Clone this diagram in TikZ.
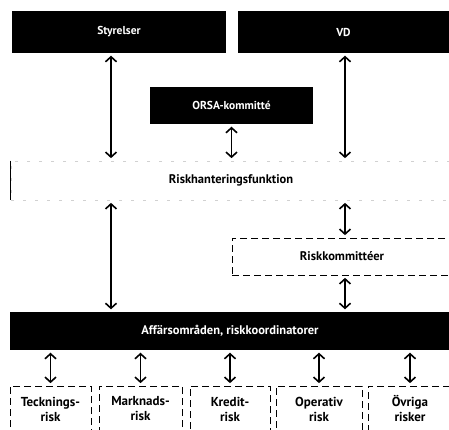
\documentclass[tikz,border=0pt]{standalone}
\usepackage{fontspec}
\setmainfont{PT Sans}
\usetikzlibrary{positioning,arrows.meta}

\tikzset{
  blackbox/.style={fill=black,text=white,inner sep=0pt,
    font=\bfseries\fontsize{11.5}{13}\selectfont},
  dashbox/.style={draw,dash pattern=on 7pt off 4pt,line width=0.7pt,inner sep=0pt,
    align=center,font=\bfseries\fontsize{13}{15}\selectfont},
  faintbox/.style={draw=black!18,dash pattern=on 3pt off 9pt,line width=0.7pt,inner sep=0pt,
    font=\bfseries\fontsize{12.5}{14}\selectfont},
  dbl/.style={{Straight Barb[length=5pt,width=11pt]}-{Straight Barb[length=5pt,width=11pt]},
    line width=1.6pt,shorten <=2.5pt,shorten >=2.5pt}
}

\begin{document}
\begin{tikzpicture}[x=1pt,y=-1pt]
\useasboundingbox (0,0) rectangle (449,429);

% top level
\node[blackbox,minimum width=214pt,minimum height=42pt] (styrelser) at (119,32) {Styrelser};
\node[blackbox,minimum width=211pt,minimum height=42pt] (vd) at (343.5,32) {VD};
\node[blackbox,minimum width=163pt,minimum height=37pt] (orsa) at (231.5,105.5) {ORSA-kommitté};

% middle
\node[faintbox,minimum width=440pt,minimum height=39pt] (riskfunk) at (231,180.5) {Riskhanteringsfunktion};
\draw[line width=0.8pt] (riskfunk.north west) -- (riskfunk.south west);
\node[dashbox,font=\bfseries\fontsize{12.5}{14}\selectfont,minimum width=220pt,minimum height=37pt] (riskkom) at (342,256.5) {Riskkommittéer};
\node[blackbox,font=\bfseries\fontsize{12.5}{14}\selectfont,minimum width=440pt,minimum height=38pt] (affar) at (230,331) {Affärsområden, riskkoordinatorer};

% risk types
\node[dashbox,minimum width=81pt,minimum height=46pt] (teck) at (50.5,409) {Tecknings-\\risk};
\node[dashbox,minimum width=83pt,minimum height=46pt] (mark) at (140.5,409) {Marknads-\\risk};
\node[dashbox,minimum width=80pt,minimum height=46pt] (kred) at (230,409) {Kredit-\\risk};
\node[dashbox,minimum width=86pt,minimum height=46pt] (oper) at (319,409) {Operativ\\risk};
\node[dashbox,minimum width=84pt,minimum height=46pt] (ovr) at (410,409) {Övriga\\risker};

% columns of the arrows
\coordinate (colA) at (111,0);
\coordinate (colC) at (345,0);

\draw[dbl] (styrelser.south -| colA) -- (riskfunk.north -| colA);
\draw[dbl] (vd.south -| colC) -- (riskfunk.north -| colC);
\draw[dbl] (orsa.south) -- (riskfunk.north -| orsa.south);
\draw[dbl] (riskfunk.south -| colA) -- (affar.north -| colA);
\draw[dbl] (riskfunk.south -| colC) -- (riskkom.north -| colC);
\draw[dbl] (riskkom.south -| colC) -- (affar.north -| colC);

\foreach \r in {teck,mark,kred,oper,ovr}
  \draw[dbl] (affar.south -| \r.north) -- (\r.north);
\end{tikzpicture}
\end{document}
